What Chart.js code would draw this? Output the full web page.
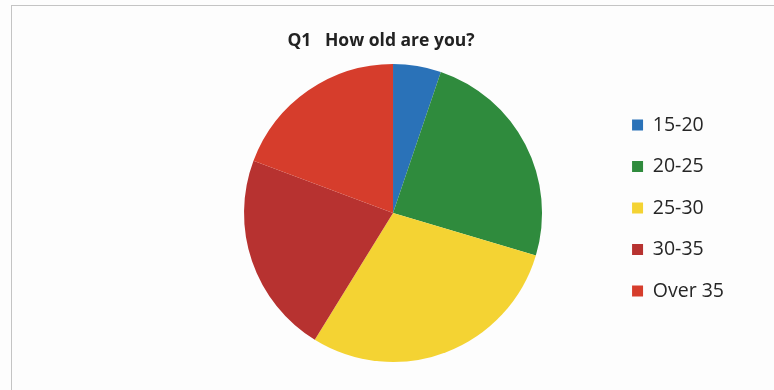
<!DOCTYPE html>
<html>
<head>
<meta charset="utf-8">
<script src="https://cdn.jsdelivr.net/npm/chart.js@4.4.1/dist/chart.umd.min.js"></script>
<style>
  html, body { margin: 0; padding: 0; background: #fdfdfd; }
  #wrap { position: relative; width: 774px; height: 390px; overflow: hidden; }
  #frame {
    position: absolute; left: 11px; top: 5px; right: -2px; bottom: -2px;
    border-top: 1px solid #c4c4c4; border-left: 1px solid #c4c4c4;
  }
  #title {
    position: absolute; left: 0; top: 27px; width: 762px; text-align: center;
    font: bold 17.5px "Open Sans", sans-serif; color: #222; white-space: pre;
  }
  canvas { position: absolute; left: 0; top: 0; }
</style>
</head>
<body>
<div id="wrap">
  <div id="frame"></div>
  <canvas id="chart" width="774" height="390"></canvas>
  <div id="title">Q1   How old are you?</div>
</div>
<script>
const categories = ['15-20', '20-25', '25-30', '30-35', 'Over 35'];
const shares = [5.2, 24.4, 29.2, 21.9, 19.3];
const colors = ['#2a72b8', '#2f8b3d', '#f4d333', '#b73230', '#d63d2c'];

// nudge the legend up a few px, the built-in centring sits a bit low
const legendNudge = {
  id: 'legendNudge',
  afterLayout(chart) {
    chart.legend.top -= 5;
    chart.legend.bottom -= 5;
  },
};

const ctx = document.getElementById('chart');
new Chart(ctx, {
  type: 'pie',
  data: {
    labels: categories,
    datasets: [{
      data: shares,
      backgroundColor: colors,
      borderWidth: 0,
    }],
  },
  options: {
    responsive: false,
    animation: false,
    layout: { padding: { top: 64, bottom: 28, left: 176, right: 40 } },
    plugins: {
      title: { display: false },
      tooltip: { enabled: false },
      legend: {
        position: 'right',
        align: 'center',
        labels: {
          boxWidth: 11,
          boxHeight: 11,
          padding: 22,
          color: '#262626',
          font: { family: '"Open Sans", sans-serif', size: 19.5 },
        },
      },
    },
  },
  plugins: [legendNudge],
});
</script>
</body>
</html>
